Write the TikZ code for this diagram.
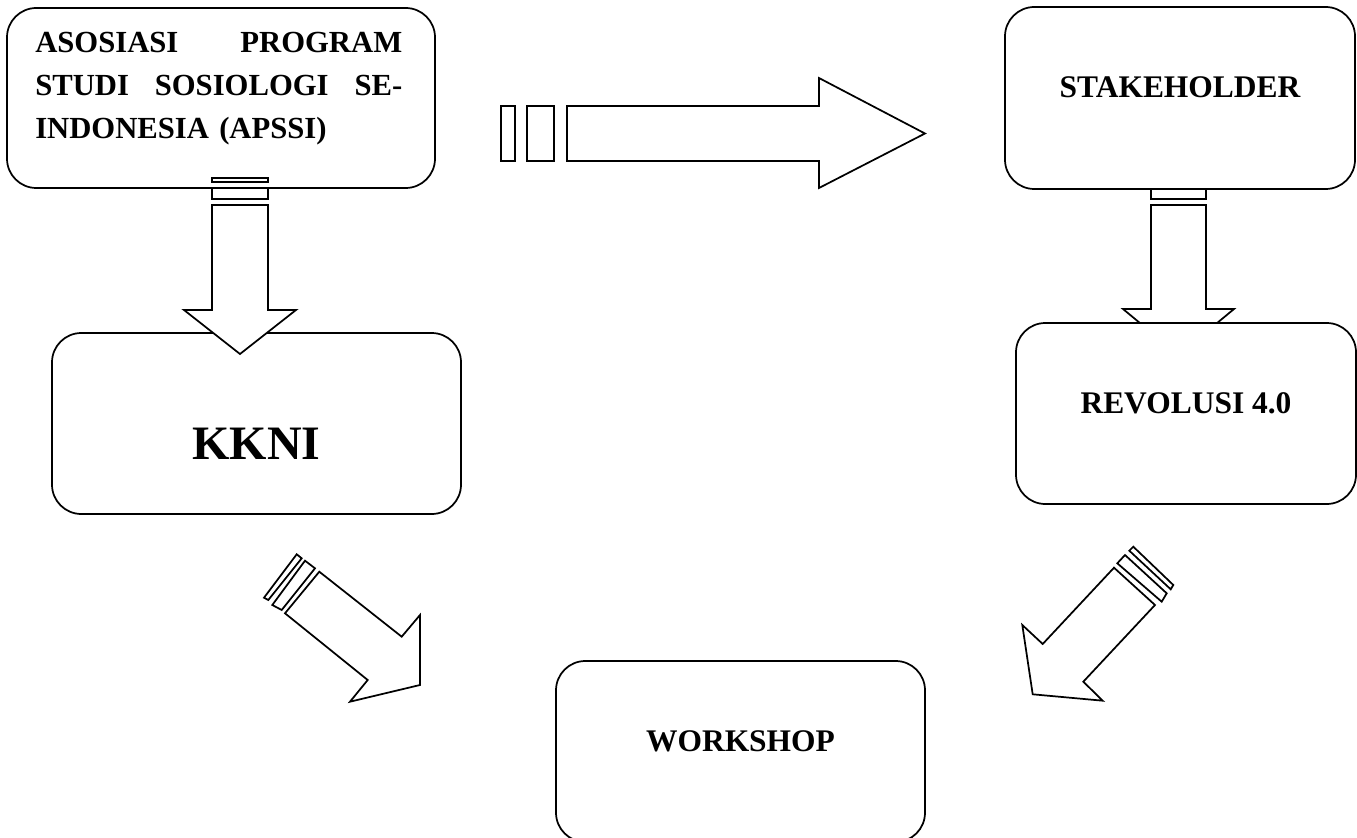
\documentclass[tikz,border=0pt]{standalone}
\usepackage{fontspec}
\setmainfont{Liberation Serif}
\usepackage{tikz}
\usetikzlibrary{positioning}

\begin{document}
\begin{tikzpicture}[
    x=0.75pt, y=-0.75pt,
    box/.style={draw, rectangle, rounded corners=22pt, line width=1.3pt, fill=white, align=center,
        font=\bfseries\fontsize{23.6pt}{32.25pt}\selectfont, text height=10pt, text depth=10pt},
    blockarrow/.style={draw, fill=white, line width=1.3pt, line join=miter}
]
    \useasboundingbox (0,0) rectangle (1357,838);
    \clip (0,0) rectangle (1357,838);

    % right column, arrow sits under the boxes
    \draw[blockarrow] (1151,178) rectangle (1206,182);
    \draw[blockarrow] (1151,189) rectangle (1206,199);
    \draw[blockarrow] (1151,205) -- (1206,205) -- (1206,309) -- (1234,309) -- (1178.5,355)
        -- (1123,309) -- (1151,309) -- cycle;

    \node[box, minimum width=262.5pt, minimum height=136.5pt] (stake) at (1180,98) {STAKEHOLDER};
    \node[box, minimum width=255pt, minimum height=135.75pt] (revol) at (1186,413.5) {REVOLUSI 4.0};

    % left column
    \node[box, minimum width=321pt, minimum height=135pt] (apssi) at (221,98) {};
    \node[font=\bfseries\fontsize{23pt}{32.25pt}\selectfont, inner sep=0pt, text width=275.25pt,
        align=left, anchor=north west] (apssitext) at (35,32)
        {ASOSIASI\hfill PROGRAM\\STUDI\hfill SOSIOLOGI\hfill SE-\\INDONESIA (APSSI)};
    \node[box, minimum width=306.75pt, minimum height=135.75pt, font=\bfseries\fontsize{36pt}{40pt}\selectfont,
        text height=59pt, text depth=5pt] (kkni) at (256.5,423.5) {KKNI};

    \draw[blockarrow] (212,178) rectangle (268,182);
    \draw[blockarrow] (212,188) rectangle (268,199);
    \draw[blockarrow] (212,205) -- (268,205) -- (268,310) -- (296,310) -- (240,354)
        -- (184,310) -- (212,310) -- cycle;

    \node[box, minimum width=276.75pt, minimum height=135.75pt] (workshop) at (740.5,751.5) {WORKSHOP};

    % top arrow
    \draw[blockarrow] (501,106) rectangle (515,161);
    \draw[blockarrow] (527,106) rectangle (554,161);
    \draw[blockarrow] (567,106) -- (819,106) -- (819,78) -- (925,133.5) -- (819,188)
        -- (819,161) -- (567,161) -- cycle;

    % diagonal arrows into workshop
    \draw[blockarrow] (296.7,554.3) -- (301.7,558.3) -- (268.3,600) -- (264,597.7) -- cycle;
    \draw[blockarrow] (305,560.7) -- (315,568.3) -- (281.7,610) -- (272.3,605) -- cycle;
    \draw[blockarrow] (319.3,571.7) -- (401.7,636.7) -- (420,615) -- (420,685) -- (350,701.7)
        -- (367.7,680) -- (285,613.3) -- cycle;

    \draw[blockarrow] (1133.3,546.7) -- (1173.3,585) -- (1170.7,589.3) -- (1129.3,550.7) -- cycle;
    \draw[blockarrow] (1125,555) -- (1166.7,593.3) -- (1161.7,601.7) -- (1117.3,563.3) -- cycle;
    \draw[blockarrow] (1114,567.7) -- (1042.7,644) -- (1022.3,625) -- (1032.7,694.3) -- (1102.7,700.7)
        -- (1083.3,681.7) -- (1155,605) -- cycle;

\end{tikzpicture}
\end{document}
